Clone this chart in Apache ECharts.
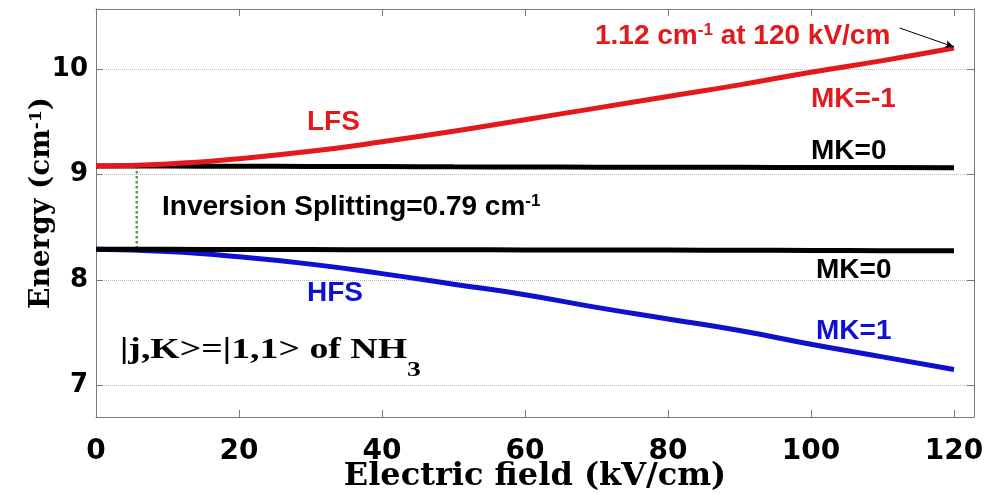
<!DOCTYPE html>
<html>
<head>
<meta charset="utf-8">
<script src="https://cdn.jsdelivr.net/npm/echarts@6/dist/echarts.min.js"></script>
<style>
  html, body { margin: 0; padding: 0; background: #ffffff; }
  #chart { width: 987px; height: 494px; }
</style>
</head>
<body>
<div id="chart"></div>
<script>
// Stark levels of the |j,K> = |1,1> state of NH3 versus electric field
const fieldKV = [0, 10, 20, 30, 40, 50, 60, 70, 80, 90, 100, 110, 120];
const lfsMKm1 = [9.08, 9.10, 9.15, 9.22, 9.31, 9.41, 9.52, 9.63, 9.74, 9.85, 9.97, 10.08, 10.20];
const hfsMK1  = [8.29, 8.27, 8.22, 8.15, 8.06, 7.96, 7.86, 7.74, 7.63, 7.52, 7.39, 7.27, 7.15];
const upperMK0 = [9.08, 9.08, 9.078, 9.077, 9.075, 9.073, 9.072, 9.07, 9.069, 9.068, 9.067, 9.066, 9.065];
const lowerMK0 = [8.29, 8.29, 8.289, 8.288, 8.287, 8.286, 8.285, 8.284, 8.283, 8.282, 8.28, 8.278, 8.276];

// inversion-splitting marker (field, energy) and the arrow pointing at the 120 kV/cm end point
const splitMarker = [[5.7, 9.08], [5.7, 8.29]];
const arrowTail = [112.4, 10.39];
const arrowHead = [120, 10.21];

// axis ranges
const xRange = [0, 122.8];
const yRange = [6.7, 10.57];

const RED = '#e3191c';
const BLUE = '#1010d0';
const AXIS_GRAY = '#7a7a7a';
const SANS = '"Liberation Sans", Arial, sans-serif';
const SERIF_WIDE = '"DejaVu Serif", serif';
const SERIF = '"Liberation Serif", "Times New Roman", serif';

const pairs = (xs, ys) => xs.map((x, i) => [x, ys[i]]);

const chart = echarts.init(document.getElementById('chart'), null, { renderer: 'canvas' });

function measure(text, font) {
  const ctx = document.createElement('canvas').getContext('2d');
  ctx.font = font;
  return ctx.measureText(text).width;
}

const nhMain = '|j,K>=|1,1> of NH';
const nhFont = 'bold 30px ' + SERIF;
const nhWidth = measure(nhMain, nhFont);

const boxAxis = {
  type: 'value',
  axisLine: { show: true, onZero: false, lineStyle: { color: AXIS_GRAY, width: 1 } },
  axisTick: { show: true, inside: true, length: 7, lineStyle: { color: AXIS_GRAY, width: 1 } },
  splitLine: { show: false }
};

const option = {
  animation: false,
  backgroundColor: '#ffffff',
  grid: { left: 96, right: 13, top: 9, bottom: 77, containLabel: false, outerBoundsMode: 'none' },
  xAxis: [
    Object.assign({}, boxAxis, {
      position: 'bottom',
      min: xRange[0], max: xRange[1], splitNumber: 6,
      axisLabel: {
        showMaxLabel: false, margin: 21, color: '#000',
        fontFamily: '"DejaVu Sans", sans-serif', fontWeight: 'bold', fontSize: 28
      },
      name: 'Electric field (kV/cm)',
      nameLocation: 'middle',
      nameGap: 44,
      nameMoveOverlap: false,
      nameTextStyle: { color: '#000', fontFamily: SERIF_WIDE, fontWeight: 'bold', fontSize: 32 }
    }),
    Object.assign({}, boxAxis, {
      position: 'top',
      min: xRange[0], max: xRange[1], splitNumber: 6,
      axisLabel: { show: false }
    })
  ],
  yAxis: [
    Object.assign({}, boxAxis, {
      position: 'left',
      min: yRange[0], max: yRange[1], splitNumber: 4,
      axisLabel: {
        showMinLabel: false, showMaxLabel: false, margin: 8, color: '#000',
        fontFamily: '"DejaVu Sans", sans-serif', fontWeight: 'bold', fontSize: 26
      },
      splitLine: { show: true, lineStyle: { color: '#b8b8b8', width: 1, type: 'dotted' } },
      name: 'Energy (cm{sup|-1})',
      nameLocation: 'middle',
      nameGap: 40,
      nameMoveOverlap: false,
      nameTextStyle: {
        color: '#000', fontFamily: SERIF_WIDE, fontWeight: 'bold', fontSize: 28,
        padding: [0, 0, 0, 20],
        rich: {
          sup: { color: '#000', fontFamily: SERIF_WIDE, fontWeight: 'bold', fontSize: 17, verticalAlign: 'top' }
        }
      }
    }),
    Object.assign({}, boxAxis, {
      position: 'right',
      min: yRange[0], max: yRange[1], splitNumber: 4,
      axisLabel: { show: false }
    })
  ],
  series: [
    {
      name: 'splitting',
      type: 'line',
      data: splitMarker,
      symbol: 'none',
      silent: true,
      lineStyle: { color: '#4f9a4f', width: 2.5, type: 'dotted' },
      z: 1
    },
    {
      name: 'MK=0 (upper)',
      type: 'line',
      data: pairs(fieldKV, upperMK0),
      symbol: 'none',
      smooth: true,
      lineStyle: { color: '#000', width: 5 },
      z: 2
    },
    {
      name: 'LFS MK=-1',
      type: 'line',
      data: pairs(fieldKV, lfsMKm1),
      symbol: 'none',
      smooth: true,
      lineStyle: { color: RED, width: 5 },
      z: 3,
      markLine: {
        silent: true,
        symbol: ['none', 'arrow'],
        symbolSize: [6, 9],
        lineStyle: { color: '#000', width: 1, type: 'solid' },
        label: { show: false },
        data: [[{ coord: arrowTail }, { coord: arrowHead }]]
      }
    },
    {
      name: 'HFS MK=1',
      type: 'line',
      data: pairs(fieldKV, hfsMK1),
      symbol: 'none',
      smooth: true,
      lineStyle: { color: BLUE, width: 5 },
      z: 3
    },
    {
      name: 'MK=0 (lower)',
      type: 'line',
      data: pairs(fieldKV, lowerMK0),
      symbol: 'none',
      smooth: true,
      lineStyle: { color: '#000', width: 5 },
      z: 4
    }
  ],
  graphic: [
    {
      type: 'text', x: 595, y: 36, z: 100,
      style: {
        text: '1.12 cm{sup|-1} at 120 kV/cm',
        fill: RED, fontFamily: SANS, fontWeight: 'bold', fontSize: 28,
        align: 'left', verticalAlign: 'middle',
        rich: { sup: { fill: RED, fontFamily: SANS, fontWeight: 'bold', fontSize: 17, verticalAlign: 'top' } }
      }
    },
    {
      type: 'text', x: 307, y: 122, z: 100,
      style: { text: 'LFS', fill: RED, fontFamily: SANS, fontWeight: 'bold', fontSize: 28, align: 'left', verticalAlign: 'middle' }
    },
    {
      type: 'text', x: 811, y: 99, z: 100,
      style: { text: 'MK=-1', fill: RED, fontFamily: SANS, fontWeight: 'bold', fontSize: 28, align: 'left', verticalAlign: 'middle' }
    },
    {
      type: 'text', x: 811, y: 151, z: 100,
      style: { text: 'MK=0', fill: '#000', fontFamily: SANS, fontWeight: 'bold', fontSize: 28, align: 'left', verticalAlign: 'middle' }
    },
    {
      type: 'text', x: 162, y: 207, z: 100,
      style: {
        text: 'Inversion Splitting=0.79 cm{sup|-1}',
        fill: '#000', fontFamily: SANS, fontWeight: 'bold', fontSize: 28,
        align: 'left', verticalAlign: 'middle',
        rich: { sup: { fill: '#000', fontFamily: SANS, fontWeight: 'bold', fontSize: 17, verticalAlign: 'top' } }
      }
    },
    {
      type: 'text', x: 816, y: 270, z: 100,
      style: { text: 'MK=0', fill: '#000', fontFamily: SANS, fontWeight: 'bold', fontSize: 28, align: 'left', verticalAlign: 'middle' }
    },
    {
      type: 'text', x: 307, y: 293, z: 100,
      style: { text: 'HFS', fill: BLUE, fontFamily: SANS, fontWeight: 'bold', fontSize: 28, align: 'left', verticalAlign: 'middle' }
    },
    {
      type: 'text', x: 816, y: 331, z: 100,
      style: { text: 'MK=1', fill: BLUE, fontFamily: SANS, fontWeight: 'bold', fontSize: 28, align: 'left', verticalAlign: 'middle' }
    },
    {
      type: 'group', x: 120, y: 350, scaleX: 1.26, z: 100,
      children: [
        {
          type: 'text', x: 0, y: 0,
          style: { text: nhMain, fill: '#000', font: nhFont, align: 'left', verticalAlign: 'middle' }
        },
        {
          type: 'text', x: nhWidth, y: 20,
          style: { text: '3', fill: '#000', font: 'bold 22px ' + SERIF, align: 'left', verticalAlign: 'middle' }
        }
      ]
    }
  ]
};

chart.setOption(option);
</script>
</body>
</html>
